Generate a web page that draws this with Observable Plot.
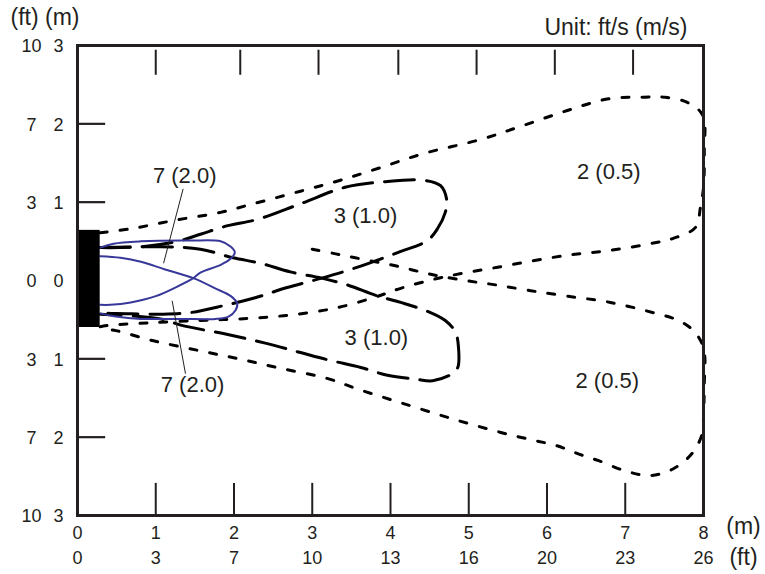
<!DOCTYPE html>
<html><head><meta charset="utf-8">
<script src="https://cdn.jsdelivr.net/npm/d3@7"></script>
<script src="https://cdn.jsdelivr.net/npm/@observablehq/plot@0.6"></script>
<style>
body{margin:0;background:#fff;}
svg{font-family:"Liberation Sans",Arial,sans-serif;}
</style></head><body><div id="chart"></div>
<script>
// Tick labels
const xTicksM  = [0,1,2,3,4,5,6,7,8];
const xTicksFt = [0,3,7,10,13,16,20,23,26];
const yTicksM  = [3,2,1,0,-1,-2,-3];
const yTicksFt = [10,7,3,0,3,7,10];
const topTickX = [1.0,2.08,3.08,4.1,5.1,6.1,7.1];
const bottomTickX = [1,2,3,4,5,6,7];
const leftTickY = [2,1,-1,-2];

// Sensor body (m)
const sensor = [{x1:0, x2:0.29, y1:-0.60, y2:0.64}];

// 7 ft/s (2.0 m/s) – blue, two lobes
const blueUpper = [[0.29,0.42],[0.46,0.47],[0.81,0.50],[1.44,0.51],[1.83,0.50],[1.96,0.43],[2.01,0.36],[1.96,0.28],[1.83,0.20],[1.57,0.10],[1.48,0.03],[1.25,-0.09],[1.00,-0.20],[0.68,-0.28],[0.42,-0.31],[0.29,-0.31]];
const blueLower = [[0.29,0.31],[0.55,0.29],[0.81,0.24],[1.12,0.14],[1.48,0.03],[1.76,-0.10],[1.96,-0.20],[2.04,-0.29],[2.02,-0.38],[1.93,-0.46],[1.76,-0.49],[1.32,-0.49],[0.81,-0.49],[0.49,-0.46],[0.29,-0.42]];

// 3 ft/s (1.0 m/s) – long dash
const dashUpper = [[0.29,0.42],[0.81,0.43],[1.28,0.50],[1.57,0.59],[1.92,0.70],[2.30,0.78],[2.85,0.98],[3.42,1.19],[3.91,1.26],[4.42,1.28],[4.64,1.21],[4.72,1.02],[4.70,0.87],[4.60,0.66],[4.47,0.51],[4.10,0.36],[3.58,0.17],[3.12,0.03],[2.68,-0.09],[2.27,-0.22],[1.87,-0.32],[1.44,-0.41],[1.06,-0.43],[0.49,-0.42],[0.29,-0.42]];
const dashLower = [[0.29,0.42],[1.06,0.43],[1.57,0.40],[1.99,0.29],[2.34,0.22],[2.72,0.11],[3.12,0.03],[3.46,-0.06],[3.81,-0.19],[4.13,-0.28],[4.49,-0.40],[4.70,-0.51],[4.83,-0.66],[4.87,-0.87],[4.86,-1.11],[4.79,-1.19],[4.54,-1.28],[4.32,-1.26],[3.96,-1.21],[3.62,-1.11],[3.23,-1.02],[2.85,-0.92],[2.40,-0.80],[1.92,-0.69],[1.32,-0.57],[1.06,-0.49],[0.29,-0.43]];

// 2 ft/s (0.5 m/s) – dotted
const dotUpper = [[0.29,0.61],[0.68,0.66],[1.25,0.77],[1.83,0.87],[2.21,0.97],[2.85,1.14],[3.36,1.28],[3.87,1.44],[4.42,1.62],[5.15,1.80],[5.70,1.98],[6.26,2.17],[6.79,2.32],[7.23,2.34],[7.51,2.34],[7.80,2.27],[7.99,2.11],[8.01,1.66],[8.00,1.19],[7.96,0.93],[7.90,0.68],[7.62,0.54],[7.32,0.47],[6.77,0.38],[6.24,0.32],[5.37,0.17],[4.66,0.04],[4.13,-0.10],[3.78,-0.22],[3.26,-0.36],[2.63,-0.45],[2.08,-0.49],[1.57,-0.51],[0.93,-0.54],[0.42,-0.57],[0.29,-0.59]];
const dotLower = [[3.00,0.40],[3.30,0.34],[3.55,0.29],[3.85,0.23],[4.10,0.18],[4.38,0.11],[4.66,0.05],[5.02,-0.01],[5.37,-0.06],[5.79,-0.13],[6.26,-0.20],[6.81,-0.28],[7.39,-0.42],[7.68,-0.51],[7.87,-0.64],[8.00,-0.86],[8.01,-1.34],[8.00,-1.75],[7.99,-1.94],[7.86,-2.20],[7.62,-2.40],[7.32,-2.49],[7.00,-2.43],[6.66,-2.30],[6.39,-2.21],[6.13,-2.11],[5.83,-2.04],[5.41,-1.94],[4.77,-1.76],[4.13,-1.56],[3.62,-1.40],[3.19,-1.25],[2.59,-1.12],[2.06,-1.00],[1.53,-0.89],[0.97,-0.77],[0.49,-0.64],[0.29,-0.61]];

// Curve labels
const curveLabels = [
  {x:1.37, y:1.34, t:"7 (2.0)"},
  {x:1.47, y:-1.33, t:"7 (2.0)"},
  {x:3.68, y:0.83, t:"3 (1.0)"},
  {x:3.82, y:-0.73, t:"3 (1.0)"},
  {x:6.79, y:1.38, t:"2 (0.5)"},
  {x:6.77, y:-1.28, t:"2 (0.5)"}
];
const leaders = [
  {x1:1.35, y1:1.17, x2:1.10, y2:0.22},
  {x1:1.21, y1:-0.26, x2:1.38, y2:-1.19}
];

const ink = "#231f20";
const xy = {x: d => d[0], y: d => d[1], curve: "catmull-rom"};

const chart = Plot.plot({
  width: 765, height: 574,
  marginLeft: 77, marginRight: 62, marginTop: 45, marginBottom: 59,
  x: {domain: [0, 8], axis: null},
  y: {domain: [-3, 3], axis: null},
  style: {fontFamily: '"Liberation Sans", Arial, sans-serif', fontSize: "17px", color: ink, background: "#fff"},
  marks: [
    // ticks
    Plot.ruleX(topTickX, {y1: 2.94, y2: 2.62, stroke: ink, strokeWidth: 2}),
    Plot.ruleX(bottomTickX, {y1: -3, y2: -2.59, stroke: ink, strokeWidth: 2}),
    Plot.ruleY(leftTickY, {x1: 0, x2: 0.36, stroke: ink, strokeWidth: 2.2}),
    // curves
    Plot.line(dotUpper, {...xy, stroke: "#000", strokeWidth: 3, strokeDasharray: "7,13"}),
    Plot.line(dotLower, {...xy, stroke: "#000", strokeWidth: 3, strokeDasharray: "7,13"}),
    Plot.line(dashUpper, {...xy, stroke: "#000", strokeWidth: 3, strokeDasharray: "30,12"}),
    Plot.line(dashLower, {...xy, stroke: "#000", strokeWidth: 3, strokeDasharray: "30,12"}),
    Plot.line(blueUpper, {...xy, stroke: "#38389a", strokeWidth: 2}),
    Plot.line(blueLower, {...xy, stroke: "#38389a", strokeWidth: 2}),
    // sensor
    Plot.rect(sensor, {x1: "x1", x2: "x2", y1: "y1", y2: "y2", fill: "#000"}),
    // leaders
    Plot.link(leaders, {x1: "x1", y1: "y1", x2: "x2", y2: "y2", stroke: ink, strokeWidth: 1}),
    // curve labels
    Plot.text(curveLabels, {x: "x", y: "y", text: "t", fontSize: 22, fill: ink}),
    // frame
    Plot.frame({stroke: ink, strokeWidth: 3}),
    // y tick labels
    Plot.text(yTicksM, {x: 0, y: d => d, text: d => String(Math.abs(d)), dx: -19, dy: 1, fontSize: 18, fill: ink}),
    Plot.text(yTicksM, {x: 0, y: d => d, text: (d, i) => String(yTicksFt[i]), dx: -46, dy: 1, fontSize: 18, fill: ink}),
    // x tick labels
    Plot.text(xTicksM, {x: d => d, y: -3, text: d => String(d), dy: 18, fontSize: 18, fill: ink}),
    Plot.text(xTicksM, {x: d => d, y: -3, text: (d, i) => String(xTicksFt[i]), dy: 43, fontSize: 18, fill: ink}),
    // unit labels
    Plot.text(["(m)"], {x: 8, y: -3, text: d => d, dx: 40, dy: 11, fontSize: 23, fill: ink}),
    Plot.text(["(ft)"], {x: 8, y: -3, text: d => d, dx: 40, dy: 42, fontSize: 23, fill: ink}),
    Plot.text(["(ft) (m)"], {x: 0, y: 3, text: d => d, dx: -67, dy: -28, textAnchor: "start", fontSize: 23, fill: ink}),
    Plot.text(["Unit: ft/s (m/s)"], {x: 8, y: 3, text: d => d, dx: -16, dy: -18, textAnchor: "end", fontSize: 23, fill: ink})
  ]
});
document.getElementById("chart").appendChild(chart);
</script>
</body></html>
